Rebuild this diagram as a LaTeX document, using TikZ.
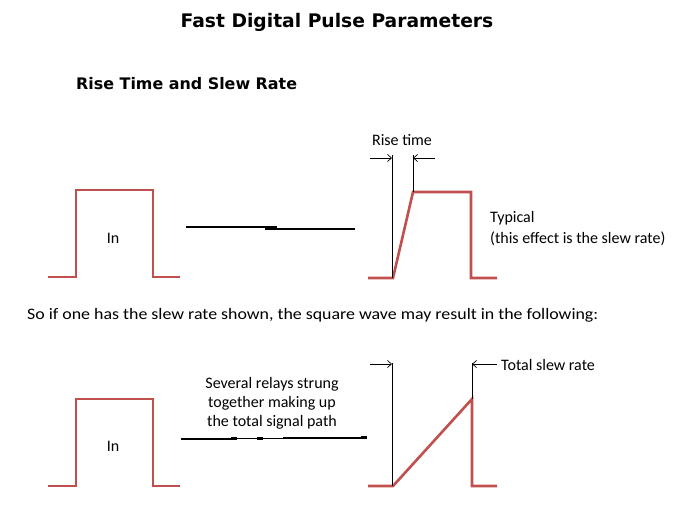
\documentclass[tikz,border=0pt]{standalone}
\usepackage{fontspec}
\setmainfont{Carlito}
\newfontfamily\titlefont{DejaVu Sans}
\usetikzlibrary{arrows.meta}
\definecolor{pulsered}{RGB}{192,80,77}
\tikzset{
  pulse/.style={draw=pulsered, line width=2.6pt, line join=miter},
  marker/.style={draw=black, line width=0.7pt},
  dimarrow/.style={draw=black, line width=0.7pt, -{Straight Barb[length=4pt,width=7pt]}},
  relay/.style={draw=black, line width=1.6pt},
  body/.style={font=\fontsize{16}{19}\selectfont, inner sep=0pt},
  ttl/.style={font=\titlefont\bfseries\fontsize{18.7}{22}\selectfont, inner sep=0pt},
  sub/.style={font=\titlefont\bfseries\fontsize{15.9}{19}\selectfont, inner sep=0pt},
}
\begin{document}
\begin{tikzpicture}[x=1pt,y=-1pt]
\useasboundingbox (0,0) rectangle (674,506);
\fill[white] (0,0) rectangle (674,506);

% titles
\node[ttl] (title) at (337,22) {Fast Digital Pulse Parameters};
\node[sub, anchor=west] (subtitle) at (76,84) {Rise Time and Slew Rate};

% ---------- top row ----------
\draw[pulse] (48,277) -- (76,277) -- (76,190) -- (153,190) -- (153,277) -- (180,277);
\node[body] (in1) at (113,238) {In};

\draw[relay] (186,227) -- (277,227);
\draw[relay] (265,229) -- (355,229);

\draw[pulse] (368,278) -- (393,278) -- (413,192) -- (471,192) -- (471,278) -- (497,278);
\coordinate (rtA0) at (392,155);
\coordinate (rtA1) at (392,278);
\coordinate (rtB0) at (413,155);
\coordinate (rtB1) at (413,192);
\draw[marker] (rtA0) -- (rtA1);
\draw[marker] (rtB0) -- (rtB1);
\coordinate (rtL) at (370,158);
\coordinate (rtLe) at (392,158);
\coordinate (rtR) at (435,158);
\coordinate (rtRe) at (413,158);
\draw[dimarrow] (rtL) -- (rtLe);
\draw[dimarrow] (rtR) -- (rtRe);
\node[body] (risetime) at (402,140) {Rise time};

\node[body, anchor=west, align=left, font=\fontsize{16}{21}\selectfont] (typical) at (490,228.5) {Typical\\(this effect is the slew rate)};

% middle sentence
\node[body, anchor=west] (sofar) at (27,315) {\scalebox{1.117}[1]{So if one has the slew rate shown, the square wave may result in the following:}};

% ---------- bottom row ----------
\draw[pulse] (48,486) -- (76,486) -- (76,399) -- (153,399) -- (153,486) -- (180,486);
\node[body] (in2) at (113,446) {In};

\node[body, align=center] (relays) at (272,403) {Several relays strung\\together making up\\the total signal path};

\foreach \i in {0,...,6}{
  \draw[relay] ({181+\i*26},{439-\i*0.2}) -- ({181+\i*26+30},{439-\i*0.2});
  \draw[black, line width=2.4pt] ({181+\i*26+24},{438.7-\i*0.2}) -- ({181+\i*26+30},{438.7-\i*0.2});
}

\draw[pulse] (368,486) -- (393,486) -- (472,399) -- (472,486) -- (497,486);
\coordinate (tsA0) at (392,363);
\coordinate (tsA1) at (392,486);
\coordinate (tsB0) at (472,363);
\coordinate (tsB1) at (472,399);
\draw[marker] (tsA0) -- (tsA1);
\draw[marker] (tsB0) -- (tsB1);
\coordinate (tsL) at (370,364);
\coordinate (tsLe) at (392,364);
\coordinate (tsR) at (497,364);
\coordinate (tsRe) at (472,364);
\draw[dimarrow] (tsL) -- (tsLe);
\draw[dimarrow] (tsR) -- (tsRe);
\node[body, anchor=west] (totalslew) at (501,365) {Total slew rate};
\end{tikzpicture}
\end{document}
